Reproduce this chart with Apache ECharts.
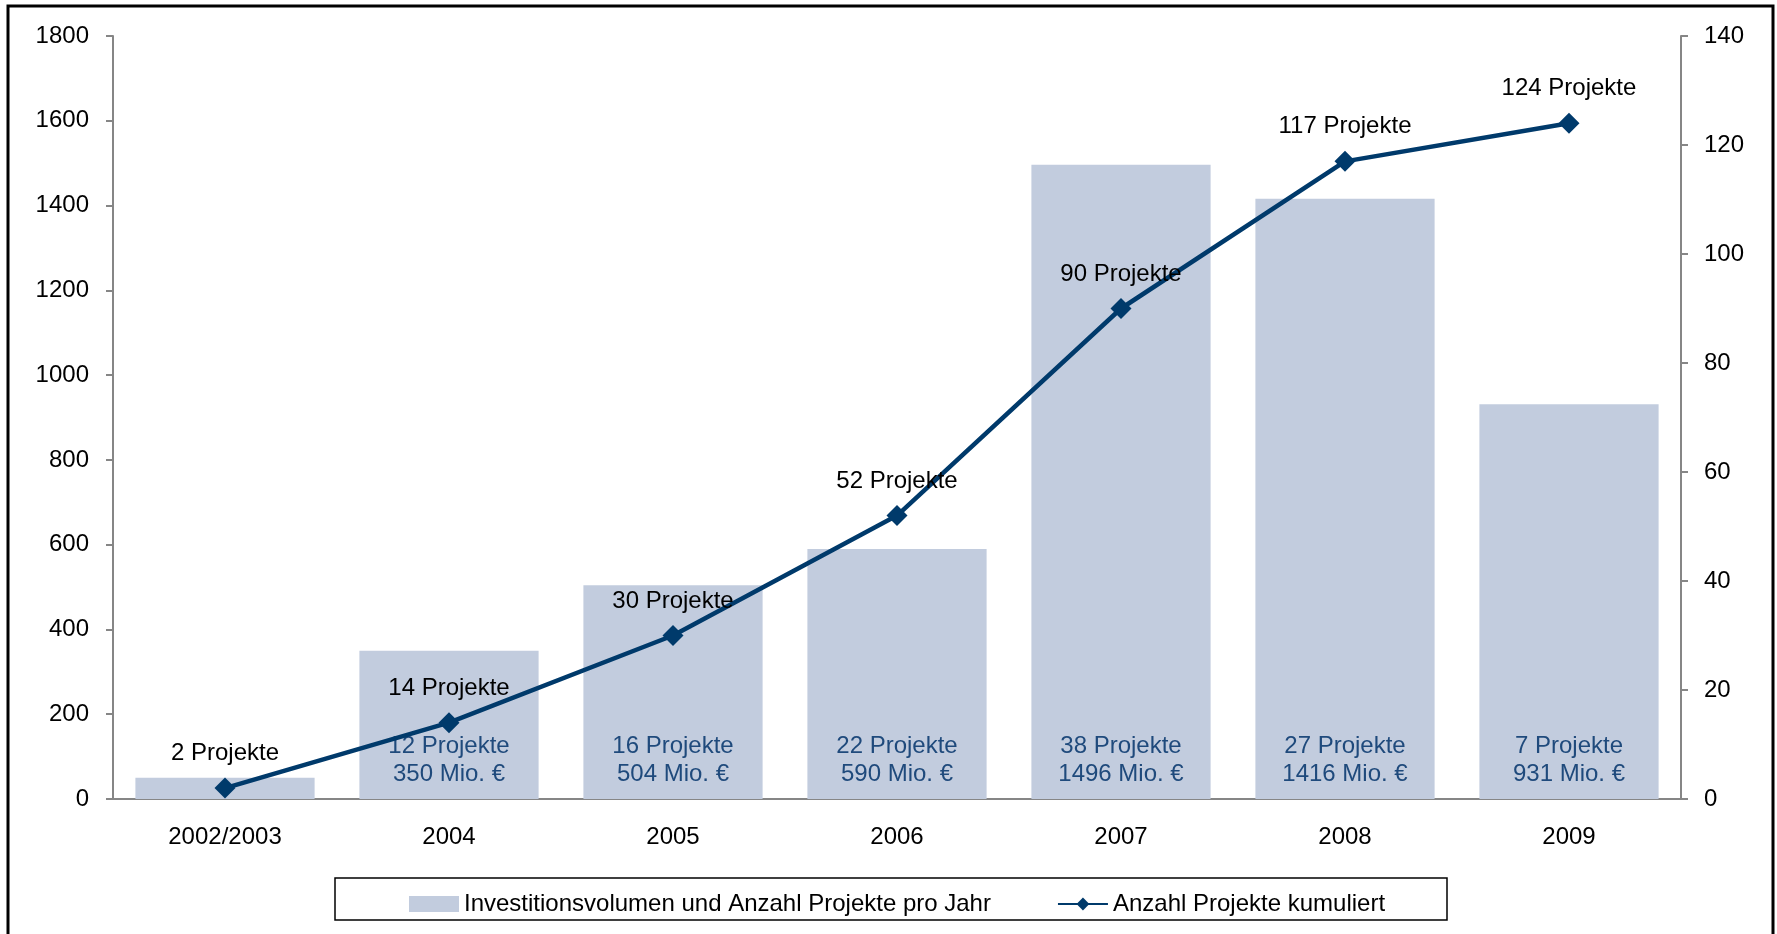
<!DOCTYPE html>
<html>
<head>
<meta charset="utf-8">
<script src="https://cdn.jsdelivr.net/npm/echarts@6/dist/echarts.min.js"></script>
<style>
html,body{margin:0;padding:0;background:#fff;}
#chart{width:1777px;height:934px;}
</style>
</head>
<body>
<div id="chart"></div>
<script>
const categories = ['2002/2003', '2004', '2005', '2006', '2007', '2008', '2009'];
const investVolume = [50, 350, 504, 590, 1496, 1416, 931];
const projectsPerYear = [2, 12, 16, 22, 38, 27, 7];
const projectsCumulative = [2, 14, 30, 52, 90, 117, 124];
const leftTicks = { min: 0, max: 1800, interval: 200 };
const rightTicks = { min: 0, max: 140, interval: 20 };
const barName = 'Investitionsvolumen und Anzahl Projekte pro Jahr';
const lineName = 'Anzahl Projekte kumuliert';

const FONT = '"Liberation Sans", Arial, sans-serif';
const FS = 24;
const axisGray = '#868686';

const chart = echarts.init(document.getElementById('chart'));
chart.setOption({
  animation: false,
  textStyle: { fontFamily: FONT },
  graphic: [
    { type: 'rect', shape: { x: 8, y: 6, width: 1765, height: 960 }, style: { fill: 'none', stroke: '#000', lineWidth: 3 }, z: -1 },
    { type: 'rect', shape: { x: 335, y: 878, width: 1112, height: 42 }, style: { fill: 'none', stroke: '#000', lineWidth: 1.5 }, z: -1 }
  ],
  legend: {
    left: 404,
    top: 887,
    itemWidth: 50,
    itemHeight: 16,
    itemGap: 66,
    textStyle: { fontSize: FS, color: '#000', fontFamily: FONT },
    data: [
      { name: barName, icon: 'rect' },
      { name: lineName }
    ]
  },
  grid: { left: 113, right: 96, top: 36, bottom: 135 },
  xAxis: {
    type: 'category',
    data: categories,
    axisLine: { lineStyle: { color: axisGray, width: 2 } },
    axisTick: { length: 7, lineStyle: { color: axisGray, width: 2 } },
    axisLabel: { fontSize: FS, color: '#000', margin: 26, fontFamily: FONT }
  },
  yAxis: [
    {
      type: 'value', min: leftTicks.min, max: leftTicks.max, interval: leftTicks.interval,
      splitLine: { show: false },
      axisLine: { show: true, lineStyle: { color: axisGray, width: 2 } },
      axisTick: { show: true, length: 7, lineStyle: { color: axisGray, width: 2 } },
      axisLabel: { fontSize: FS, color: '#000', margin: 24, fontFamily: FONT, formatter: v => String(v) }
    },
    {
      type: 'value', min: rightTicks.min, max: rightTicks.max, interval: rightTicks.interval,
      position: 'right',
      splitLine: { show: false },
      axisLine: { show: true, lineStyle: { color: axisGray, width: 2 } },
      axisTick: { show: true, length: 7, lineStyle: { color: axisGray, width: 2 } },
      axisLabel: { fontSize: FS, color: '#000', margin: 23, fontFamily: FONT, formatter: v => String(v) }
    }
  ],
  series: [
    {
      name: barName,
      type: 'bar',
      data: investVolume,
      barCategoryGap: '20%',
      itemStyle: { color: '#C2CCDE' },
      label: {
        show: true,
        position: 'insideBottom',
        distance: 11,
        fontSize: FS,
        lineHeight: 28,
        color: '#1F4A7C',
        fontFamily: FONT,
        formatter: p => p.dataIndex === 0 ? '' : projectsPerYear[p.dataIndex] + ' Projekte\n' + p.value + ' Mio. €'
      }
    },
    {
      name: lineName,
      type: 'line',
      yAxisIndex: 1,
      data: projectsCumulative,
      symbol: 'diamond',
      symbolSize: 21,
      lineStyle: { color: '#003A6B', width: 4.5 },
      itemStyle: { color: '#003A6B' },
      label: {
        show: true,
        position: 'top',
        distance: 12,
        fontSize: FS,
        color: '#000',
        fontFamily: FONT,
        formatter: p => p.value + ' Projekte'
      },
      z: 5
    }
  ]
});
</script>
</body>
</html>
